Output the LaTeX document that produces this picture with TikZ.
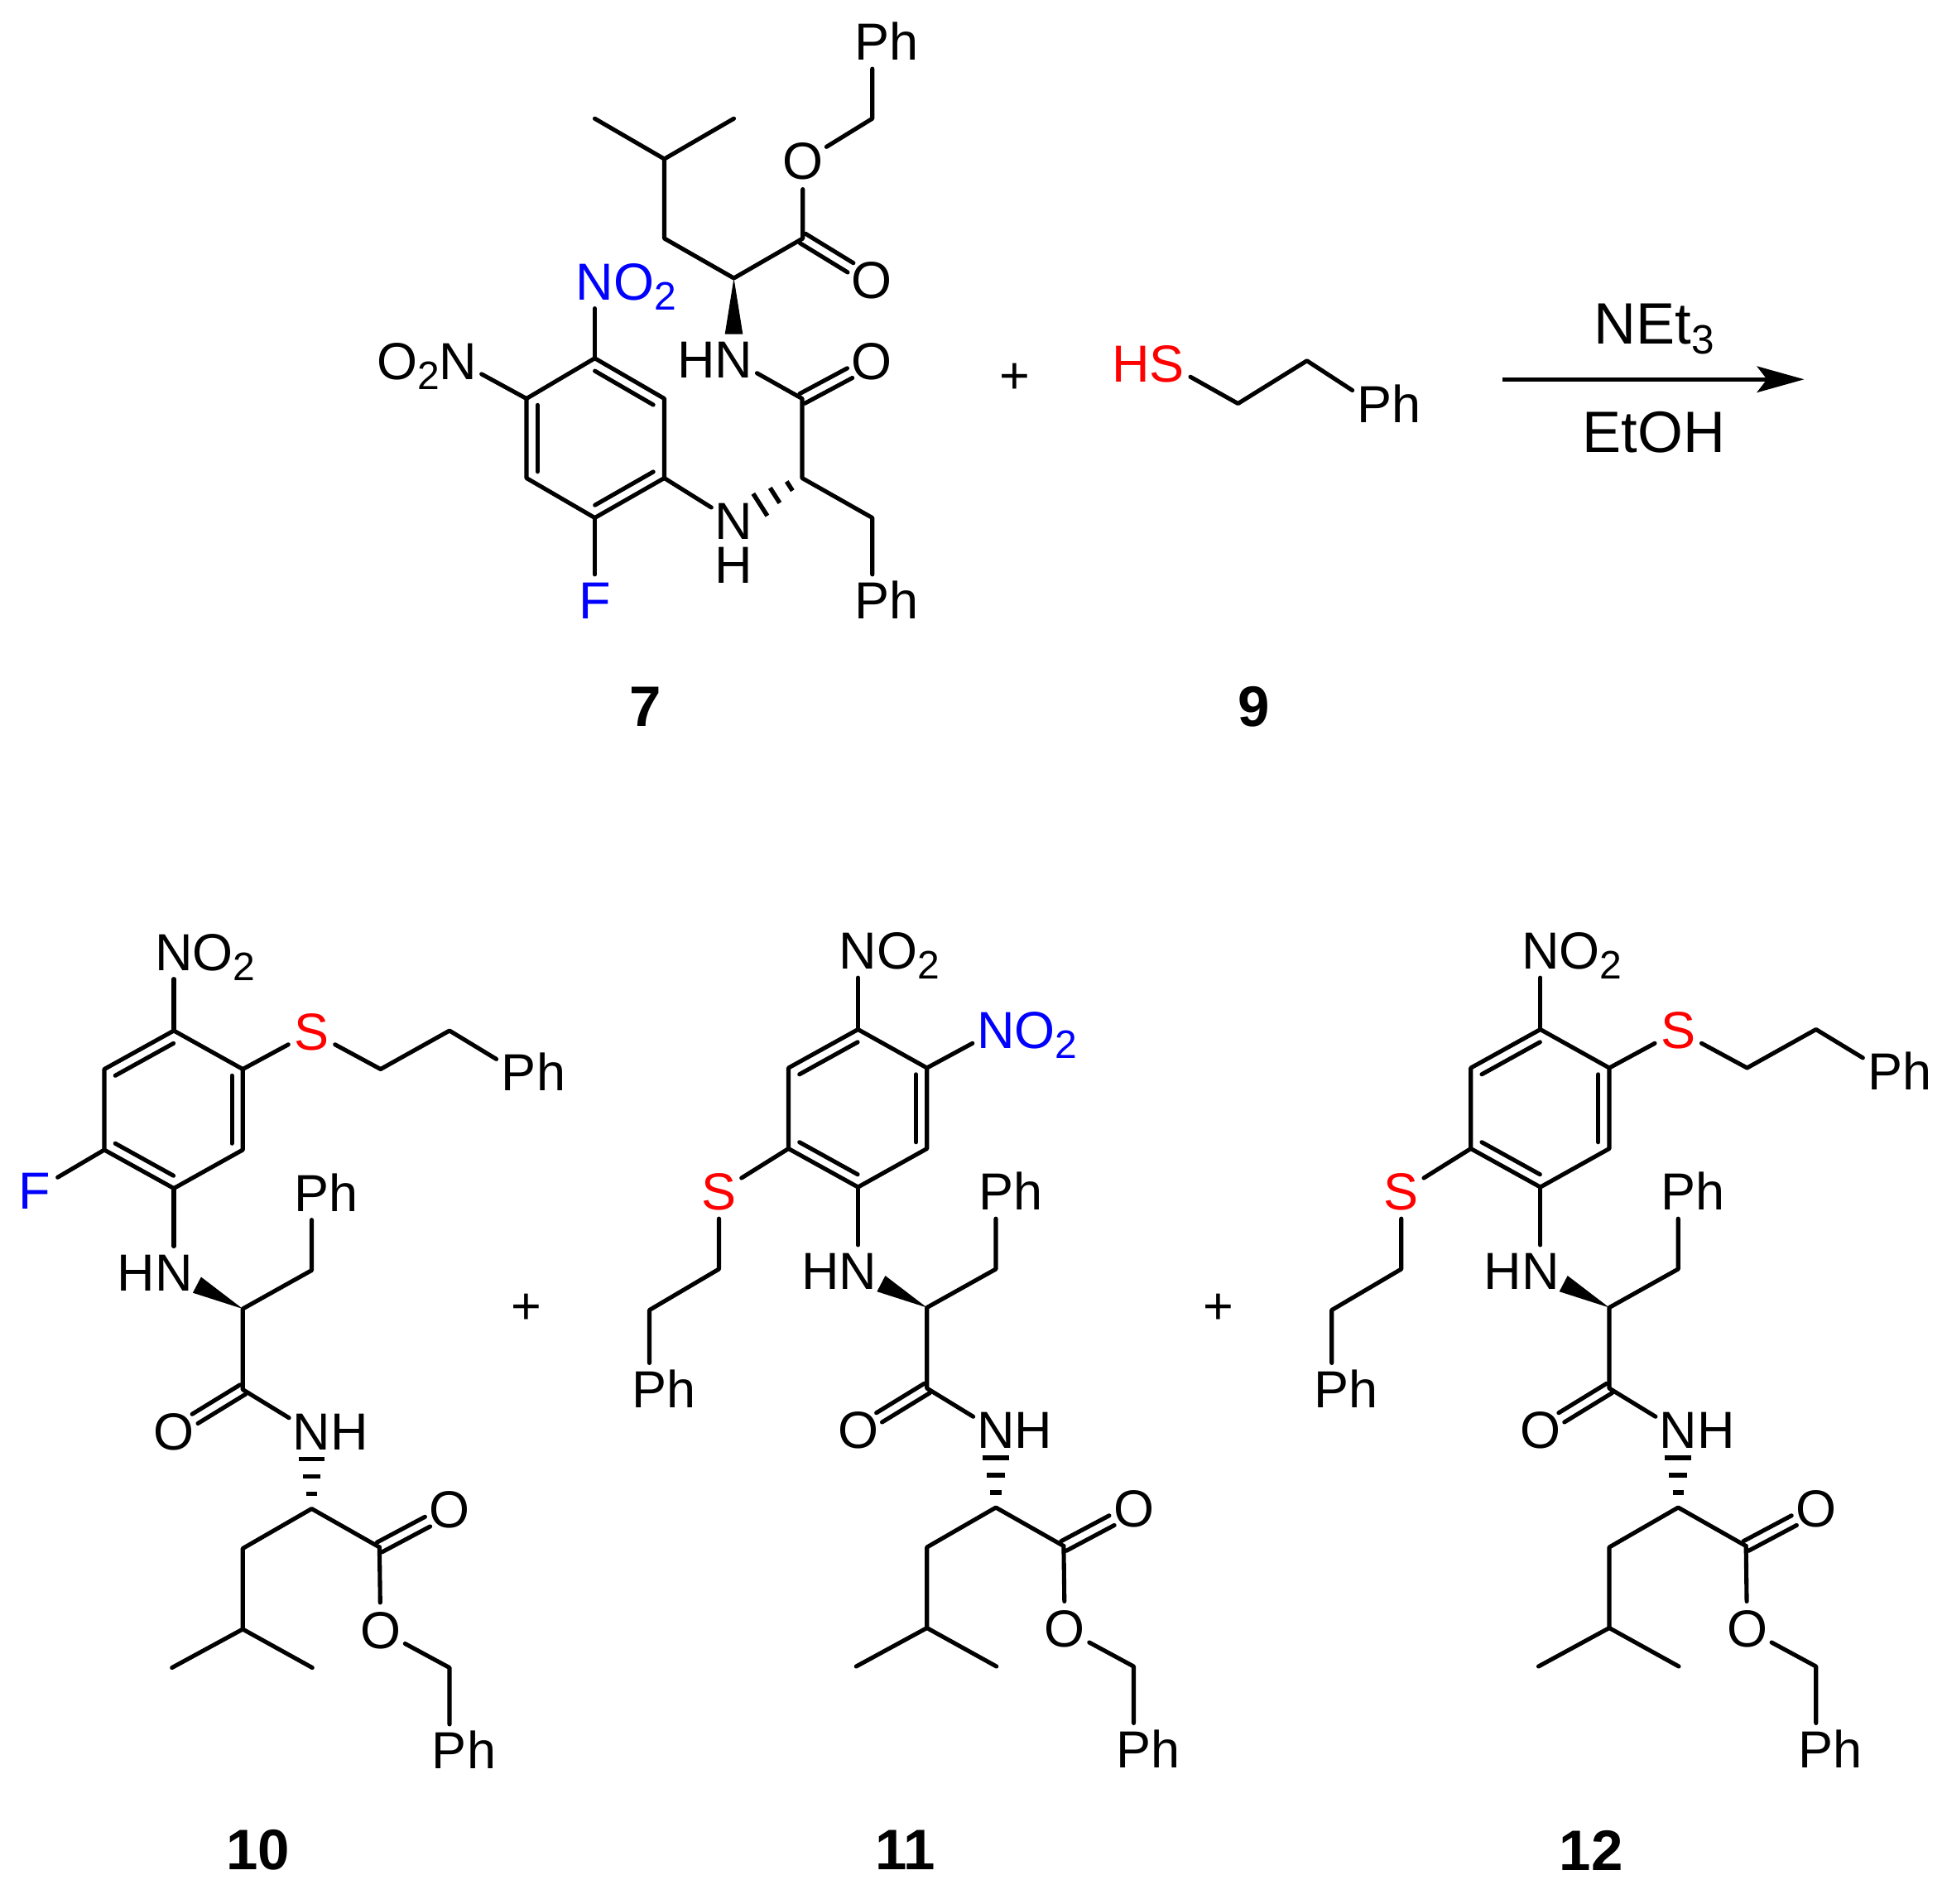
\documentclass[tikz,border=0pt]{standalone}
\usepackage{fontspec}
\setmainfont{Liberation Sans}
\usetikzlibrary{arrows.meta, calc}

\newcommand\rtext[1]{\smash{\rlap{#1}}}
\newcommand\ltext[1]{\smash{\llap{#1}}}
\newcommand\subs[1]{\raisebox{-4pt}{\fontsize{16}{16}\selectfont #1}}

% inner line of a ring bond, on the left of a->b
\newcommand\ringdouble[2]{\draw[bond,shorten <=2.6pt,shorten >=2.6pt] ($(#1)!4.4pt!90:(#2)$) -- ($(#2)!4.4pt!-90:(#1)$);}
% C=O
\newcommand\carbonyl[2]{\draw[bond,shorten >=10pt] ($(#1)!2.2pt!90:(#2)$) -- ($(#2)!2.2pt!-90:(#1)$);
  \draw[bond,shorten >=10pt] ($(#1)!2.2pt!-90:(#2)$) -- ($(#2)!2.2pt!90:(#1)$);}
\newcommand\wedgebond[2]{\coordinate (wb) at ($(#2)!10.5pt!(#1)$);
  \fill (#1) -- ($(wb)!3.6pt!90:(#1)$) -- ($(wb)!3.6pt!-90:(#1)$) -- cycle;}
\newcommand\hashbond[2]{\foreach \d/\h in {6/2.2,13/3.6,20/5.3} {
    \coordinate (hb) at ($(#1)!\d pt!(#2)$);
    \draw[line width=1.8pt] ($(hb)!\h pt!90:(#1)$) -- ($(hb)!\h pt!-90:(#1)$);}}

% what 10, 11 and 12 have in common
\newcommand\scaffold{
  \coordinate (r1) at (140,830);
  \coordinate (r2) at (84,861);
  \coordinate (r3) at (84,926);
  \coordinate (r4) at (140,957);
  \coordinate (r5) at (195.5,926);
  \coordinate (r6) at (195.5,861);
  \coordinate (ca) at (195.5,1054);
  \coordinate (cb) at (251,1023);
  \coordinate (co) at (195.5,1119);
  \coordinate (cc) at (251,1215);
  \coordinate (cd) at (195.5,1247);
  \coordinate (ce) at (195.5,1312);
  \coordinate (me1) at (138.5,1343);
  \coordinate (me2) at (251.5,1343);
  \coordinate (cf) at (305.6,1246);
  \coordinate (cg) at (362,1343);
  \node[atom] (nitro) at (140,767) {N\rtext{O\subs{2}}};
  \node[atom] (hn) at (140,1025) {\ltext{H}N};
  \node[atom] (ph1) at (251,961) {P\rtext{h}};
  \node[atom] (oa) at (140,1153) {O};
  \node[atom] (nh) at (251,1153) {N\rtext{H}};
  \node[atom] (ob) at (362,1216) {O};
  \node[atom] (oc) at (306.5,1313) {O};
  \node[atom] (ph2) at (362,1410) {P\rtext{h}};
  \draw[bond] (r1) -- (r2) -- (r3) -- (r4) -- (r5) -- (r6) -- cycle;
  \ringdouble{r1}{r2}
  \ringdouble{r3}{r4}
  \ringdouble{r5}{r6}
  \draw[bond] (r1) -- (nitro);
  \draw[bond] (r4) -- (hn);
  \wedgebond{ca}{hn}
  \draw[bond] (ph1) -- (cb) -- (ca) -- (co) -- (nh);
  \carbonyl{co}{oa}
  \hashbond{cc}{nh}
  \draw[bond] (cf) -- (cc) -- (cd) -- (ce) -- (me1);
  \draw[bond] (ce) -- (me2);
  \carbonyl{cf}{ob}
  \draw[bond] (cf) -- (oc);
  \draw[bond] (oc) -- (cg) -- (ph2);
}
\newcommand\thioright{
  \coordinate (ch1) at (306.5,861);
  \coordinate (ch2) at (362,830);
  \node[atom,text=sulfur] (s1) at (251,831) {S};
  \node[atom] (ph3) at (418,864) {P\rtext{h}};
  \draw[bond] (r6) -- (s1);
  \draw[bond] (s1) -- (ch1) -- (ch2) -- (ph3);
}
\newcommand\thioleft{
  \coordinate (ch3) at (28,1023);
  \coordinate (ch4) at (-28,1056);
  \node[atom,text=sulfur] (s2) at (28,961) {S};
  \node[atom] (ph4) at (-28,1120) {P\rtext{h}};
  \draw[bond] (r3) -- (s2);
  \draw[bond] (s2) -- (ch3) -- (ch4) -- (ph4);
}

\begin{document}
\begin{tikzpicture}[
  x=0.5pt,y=-0.5pt,
  font=\fontsize{21}{21}\selectfont,
  bond/.style={line width=1.7pt,line cap=round,line join=round},
  atom/.style={circle,inner sep=0pt,minimum size=21pt},
  compound/.style={font=\fontsize{23}{23}\selectfont\bfseries,inner sep=0pt},
  reagent/.style={font=\fontsize{23.5}{23.5}\selectfont,inner sep=0pt},
  plus/.style={inner sep=0pt},
  ]
  \useasboundingbox (0,0) rectangle (1568,1532.7);
  \colorlet{sulfur}{red}
  \colorlet{flag}{blue}

  % 7
  \coordinate (a1) at (479,288.5);
  \coordinate (a2) at (424,321);
  \coordinate (a3) at (424,385);
  \coordinate (a4) at (479,417);
  \coordinate (a5) at (535,385);
  \coordinate (a6) at (535,321);
  \coordinate (b1) at (646,385);
  \coordinate (b2) at (702.5,417);
  \coordinate (b3) at (646,321);
  \coordinate (b4) at (591,224);
  \coordinate (b5) at (535,192);
  \coordinate (b6) at (535,128);
  \coordinate (b7) at (479,95.5);
  \coordinate (b8) at (591,95.5);
  \coordinate (b9) at (646.5,192);
  \coordinate (b10) at (702.5,95.5);
  \node[atom,text=flag] (no2) at (479,227) {N\rtext{O\subs{2}}};
  \node[atom] (o2n) at (369,291) {\ltext{O\subs{2}}N};
  \node[atom,text=flag] (f7) at (479,484) {F};
  \node[atom] (n7) at (591,420) {N};
  \node[atom] (h7) at (591,455) {H};
  \node[atom] (ph7a) at (702.5,484) {P\rtext{h}};
  \node[atom] (hn7) at (591,290) {\ltext{H}N};
  \node[atom] (o7a) at (702,291) {O};
  \node[atom] (o7b) at (702,226) {O};
  \node[atom] (o7c) at (646.5,130) {O};
  \node[atom] (ph7b) at (702.5,34) {P\rtext{h}};
  \draw[bond] (a1) -- (a2) -- (a3) -- (a4) -- (a5) -- (a6) -- cycle;
  \ringdouble{a6}{a1}
  \ringdouble{a2}{a3}
  \ringdouble{a4}{a5}
  \draw[bond] (a1) -- (no2);
  \draw[bond] (a2) -- (o2n);
  \draw[bond] (a4) -- (f7);
  \draw[bond] (a5) -- (n7);
  \hashbond{b1}{n7}
  \draw[bond] (ph7a) -- (b2) -- (b1) -- (b3) -- (hn7);
  \carbonyl{b3}{o7a}
  \wedgebond{b4}{hn7}
  \draw[bond] (b7) -- (b6) -- (b5) -- (b4) -- (b9) -- (o7c);
  \draw[bond] (b6) -- (b8);
  \carbonyl{b9}{o7b}
  \draw[bond] (o7c) -- (b10) -- (ph7b);
  \node[compound] (lab7) at (520,569) {7};

  \node[plus] (plus1) at (817,305) {+};

  % 9
  \coordinate (t1) at (997,325);
  \coordinate (t2) at (1052.5,290.5);
  \node[atom,text=sulfur] (hs) at (940,293) {\ltext{H}S};
  \node[atom] (ph9) at (1107,326) {P\rtext{h}};
  \draw[bond] (hs) -- (t1) -- (t2) -- (ph9);
  \node[compound] (lab9) at (1010,569) {9};

  % arrow
  \coordinate (arrowstart) at (1210,305.5);
  \coordinate (arrowend) at (1453,305.5);
  \draw[line width=1.7pt,-{Stealth[length=19pt,width=10.5pt,inset=4pt]}] (arrowstart) -- (arrowend);
  \node[reagent] (net) at (1332,265) {NEt\raisebox{-4pt}{\fontsize{16.5}{16.5}\selectfont 3}};
  \node[reagent] (etoh) at (1332,348) {EtOH};

  % 10
  \begin{scope}[name prefix=x-]
    \scaffold
    \thioright
    \node[atom,text=flag] (f) at (28,959) {F};
    \draw[bond] (r3) -- (f);
    \node[compound] (lab) at (208,1490) {10};
  \end{scope}
  \node[plus] (plus2) at (424,1054) {+};

  % 11
  \begin{scope}[shift={(551,-1)},name prefix=y-]
    \scaffold
    \thioleft
    \node[atom,text=flag] (no) at (251,831) {N\rtext{O\subs{2}}};
    \draw[bond] (r6) -- (no);
    \node[compound] (lab) at (178,1491) {11};
  \end{scope}
  \node[plus] (plus3) at (981,1054) {+};

  % 12
  \begin{scope}[shift={(1100.5,-1)},name prefix=z-]
    \scaffold
    \thioright
    \thioleft
    \node[compound] (lab) at (181,1491) {12};
  \end{scope}
\end{tikzpicture}
\end{document}
